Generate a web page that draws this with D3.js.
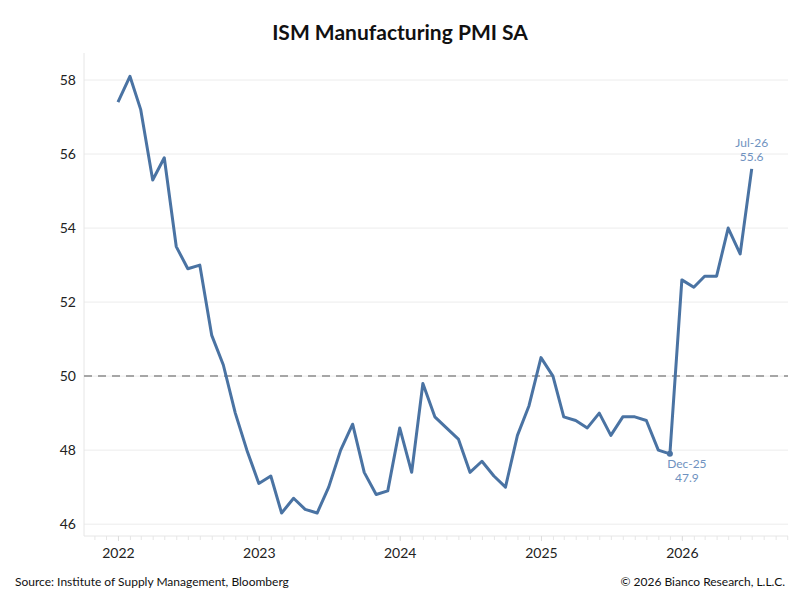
<!DOCTYPE html>
<html>
<head>
<meta charset="utf-8">
<script src="https://cdn.jsdelivr.net/npm/d3@7"></script>
<style>
  body { margin: 0; background: #fff; }
  svg { font-family: Lato, "Open Sans", sans-serif; }
</style>
</head>
<body>
<svg id="chart" width="800" height="600"></svg>
<script>
// monthly readings, Jan 2022 .. Jul 2026
var startMonth = "2022-01";
var pmiValues = [
  57.4, 58.1, 57.2, 55.3, 55.9, 53.5, 52.9, 53.0, 51.1, 50.3, 49.0, 48.0,
  47.1, 47.3, 46.3, 46.7, 46.4, 46.3, 47.0, 48.0, 48.7, 47.4, 46.8, 46.9,
  48.6, 47.4, 49.8, 48.9, 48.6, 48.3, 47.4, 47.7, 47.3, 47.0, 48.4, 49.2,
  50.5, 50.0, 48.9, 48.8, 48.6, 49.0, 48.4, 48.9, 48.9, 48.8, 48.0, 47.9,
  52.6, 52.4, 52.7, 52.7, 54.0, 53.3, 55.6
];
var yTicks = [46, 48, 50, 52, 54, 56, 58];
var yearTicks = ["2022", "2023", "2024", "2025", "2026"];
var refLevel = 50;
var callouts = [
  { month: "2025-12", where: "below" },
  { month: "2026-07", where: "above" }
];

var parseMonth = d3.timeParse("%Y-%m");
var fmtLabel = d3.timeFormat("%b-%y");
var t0 = parseMonth(startMonth);
var data = pmiValues.map(function(v, i) {
  return { date: d3.timeMonth.offset(t0, i), value: v };
});

var svg = d3.select("#chart");
var plotLeft = 84, plotRight = 788, plotTop = 53, plotBottom = 536;

var x = d3.scaleTime()
  .domain([new Date(2021, 9, 5), new Date(2026, 9, 3)])
  .range([plotLeft, plotRight]);
var y = d3.scaleLinear()
  .domain([45.68, 58.73])
  .range([plotBottom, plotTop]);

var lineColor = "#4a73a3";
var labelColor = "#6f92c0";

// title
svg.append("text")
  .attr("x", 400).attr("y", 40)
  .attr("text-anchor", "middle")
  .style("font-size", "21px").style("font-weight", "bold").style("fill", "#111")
  .text("ISM Manufacturing PMI SA");

// gridlines
svg.append("g").selectAll("line")
  .data(yTicks).enter().append("line")
  .attr("x1", plotLeft).attr("x2", plotRight)
  .attr("y1", function(d) { return y(d); })
  .attr("y2", function(d) { return y(d); })
  .attr("stroke", "#ececec").attr("stroke-width", 1);

// axis frame lines
svg.append("line")
  .attr("x1", plotLeft).attr("x2", plotLeft).attr("y1", plotTop).attr("y2", plotBottom)
  .attr("stroke", "#e6e6e6");
svg.append("line")
  .attr("x1", plotLeft).attr("x2", plotRight).attr("y1", plotBottom).attr("y2", plotBottom)
  .attr("stroke", "#e6e6e6");

// y axis
var yAxis = d3.axisLeft(y).tickValues(yTicks).tickSize(0).tickPadding(8);
var gy = svg.append("g").attr("transform", "translate(" + plotLeft + ",0)").call(yAxis);
gy.select(".domain").remove();
gy.selectAll("text").style("font-size", "14px").style("fill", "#222")
  .style("font-family", "Lato, sans-serif");

// x axis: monthly minor ticks, year labels
var xMinor = d3.axisBottom(x).ticks(d3.timeMonth.every(1)).tickSize(4).tickFormat("");
var gxm = svg.append("g").attr("transform", "translate(0," + plotBottom + ")").call(xMinor);
gxm.select(".domain").remove();
gxm.selectAll("line").attr("stroke", "#e6e6e6");

var xAxis = d3.axisBottom(x)
  .tickValues(yearTicks.map(function(s) { return d3.timeParse("%Y")(s); }))
  .tickFormat(d3.timeFormat("%Y")).tickSize(5).tickPadding(7);
var gx = svg.append("g").attr("transform", "translate(0," + plotBottom + ")").call(xAxis);
gx.select(".domain").remove();
gx.selectAll("line").attr("stroke", "#dddddd");
gx.selectAll("text").style("font-size", "14px").style("fill", "#222")
  .style("font-family", "Lato, sans-serif");

// 50 reference line
svg.append("line")
  .attr("x1", plotLeft).attr("x2", plotRight)
  .attr("y1", y(refLevel)).attr("y2", y(refLevel))
  .attr("stroke", "#a6a6a6").attr("stroke-width", 2)
  .attr("stroke-dasharray", "8,6");

// series
var line = d3.line()
  .x(function(d) { return x(d.date); })
  .y(function(d) { return y(d.value); });
svg.append("path")
  .datum(data)
  .attr("d", line)
  .attr("fill", "none")
  .attr("stroke", lineColor)
  .attr("stroke-width", 3)
  .attr("stroke-linejoin", "round");

// callouts
callouts.forEach(function(c) {
  var d = data.find(function(p) { return +p.date === +parseMonth(c.month); });
  var cx = x(d.date), cy = y(d.value);
  var g = svg.append("g").style("font-size", "12px").style("fill", labelColor)
    .attr("text-anchor", "middle");
  if (c.where === "below") {
    svg.append("circle").attr("cx", cx).attr("cy", cy).attr("r", 3).attr("fill", lineColor);
    g.append("text").attr("x", cx + 17).attr("y", cy + 14).text(fmtLabel(d.date));
    g.append("text").attr("x", cx + 17).attr("y", cy + 28).text(d.value.toFixed(1));
  } else {
    g.append("text").attr("x", cx).attr("y", cy - 22).text(fmtLabel(d.date));
    g.append("text").attr("x", cx).attr("y", cy - 8).text(d.value.toFixed(1));
  }
});

// footer
svg.append("text").attr("x", 15).attr("y", 586)
  .style("font-size", "12px").style("fill", "#111")
  .text("Source: Institute of Supply Management, Bloomberg");
svg.append("text").attr("x", 785).attr("y", 586)
  .attr("text-anchor", "end")
  .style("font-size", "12px").style("fill", "#111")
  .text("\u00a9 2026 Bianco Research, L.L.C.");
</script>
</body>
</html>
